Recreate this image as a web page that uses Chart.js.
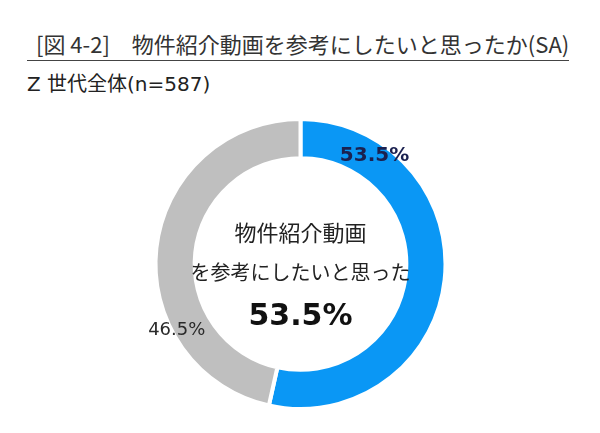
<!DOCTYPE html>
<html>
<head>
<meta charset="utf-8">
<script src="https://cdn.jsdelivr.net/npm/chart.js@4/dist/chart.umd.min.js"></script>
<style>
  body { margin: 0; width: 600px; height: 433px; background: #fff; position: relative; overflow: hidden;
         font-family: "Noto Sans CJK JP", "Noto Sans", sans-serif; }
  #title { position: absolute; left: 36px; top: 29px; font-size: 22px; color: #333; white-space: nowrap; line-height: 28px; }
  #rule { position: absolute; left: 27px; top: 60px; width: 542px; height: 0; border-top: 1.5px solid #444; }
  #sub { position: absolute; left: 27px; top: 70px; font-size: 20px; color: #222; white-space: nowrap; line-height: 28px;
         font-family: "DejaVu Sans", "Noto Sans CJK JP", sans-serif; }
  #box { position: absolute; left: 0; top: 117px; width: 601px; height: 294px; }
</style>
</head>
<body>
<div id="title">[図 4-2]　物件紹介動画を参考にしたいと思ったか(SA)</div>
<div id="rule"></div>
<div id="sub">Z 世代全体(n=587)</div>
<div id="box"><canvas id="myChart"></canvas></div>
<script>
const labels = ['参考にしたいと思った', 'それ以外'];
const values = [53.5, 46.5];
const colors = ['#0A97F5', '#BFBFBF'];
const centerLines = ['物件紹介動画', 'を参考にしたいと思った'];

const jpFont = '"Noto Sans CJK JP", "Noto Sans", sans-serif';
const numFont = '"DejaVu Sans", sans-serif';

// labels on the ring plus the text in the hole
const ringText = {
    id: 'ringText',
    afterDatasetsDraw(chart) {
        const ctx = chart.ctx;
        const arcs = chart.getDatasetMeta(0).data;
        const cx = arcs[0].x, cy = arcs[0].y;
        ctx.save();
        ctx.textAlign = 'center';
        ctx.textBaseline = 'middle';

        // value labels, placed part way round each slice
        const spots = [
            { frac: 0.178, r: 0.906, font: 'bold 20px ' + numFont, color: '#1B2150' },
            { frac: 0.293, r: 0.97, font: '18px ' + numFont, color: '#2a2a2a' }
        ];
        arcs.forEach((arc, i) => {
            const p = arc.getProps(['startAngle', 'endAngle', 'outerRadius'], true);
            const a = p.startAngle + (p.endAngle - p.startAngle) * spots[i].frac;
            const r = p.outerRadius * spots[i].r;
            ctx.font = spots[i].font;
            ctx.fillStyle = spots[i].color;
            ctx.fillText(values[i].toFixed(1) + '%', cx + Math.cos(a) * r, cy + Math.sin(a) * r);
        });

        ctx.fillStyle = '#222';
        ctx.font = '22px ' + jpFont;
        ctx.fillText(centerLines[0], cx, cy - 31);
        ctx.font = '20px ' + jpFont;
        ctx.fillText(centerLines[1], cx, cy + 8);
        ctx.fillStyle = '#111';
        ctx.font = 'bold 30px ' + numFont;
        ctx.fillText(values[0].toFixed(1) + '%', cx, cy + 53);
        ctx.restore();
    }
};

const ctx = document.getElementById('myChart').getContext('2d');
const myChart = new Chart(ctx, {
    type: 'doughnut',
    data: {
        labels: labels,
        datasets: [{
            data: values,
            backgroundColor: colors,
            borderColor: '#fff',
            borderWidth: 4,
            hoverOffset: 0
        }]
    },
    options: {
        responsive: true,
        maintainAspectRatio: false,
        animation: false,
        cutout: '73%',
        layout: { padding: 0 },
        plugins: {
            legend: { display: false },
            tooltip: { enabled: false }
        }
    },
    plugins: [ringText]
});
</script>
</body>
</html>
